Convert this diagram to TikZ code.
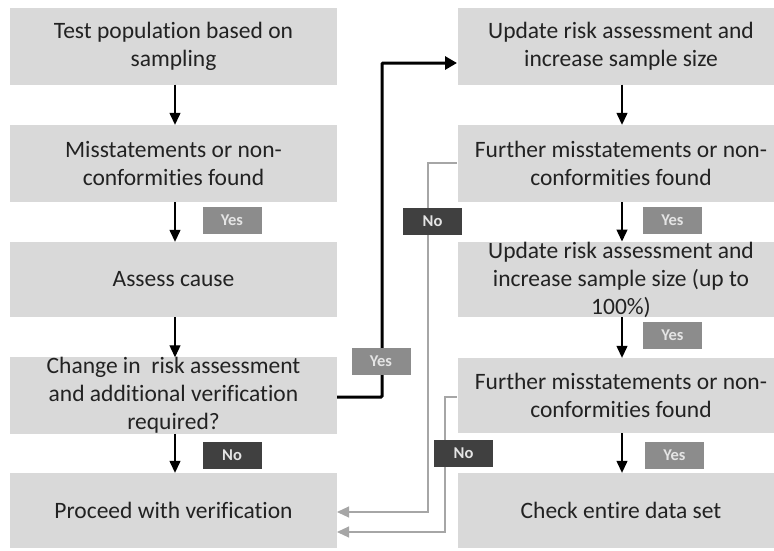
\documentclass[tikz,border=0pt]{standalone}
\usepackage{fontspec}
\setmainfont{Carlito}[Ligatures={NoCommon,NoRequired,NoContextual}]
\usetikzlibrary{arrows.meta}
\newcommand{\tI}{t\kern0pt i}
\definecolor{boxfill}{HTML}{D9D9D9}
\definecolor{boxtext}{HTML}{222222}
\definecolor{yesfill}{HTML}{8C8C8C}
\definecolor{nofill}{HTML}{404040}
\definecolor{labtext}{HTML}{E4E4E4}
\definecolor{noline}{HTML}{A6A6A6}
\tikzset{
  stepbox/.style={fill=boxfill, text=boxtext, minimum width=327pt, minimum height=77pt,
    inner sep=0pt, align=center, font=\fontsize{23.5}{28}\selectfont},
  yeslab/.style={fill=yesfill, text=labtext, minimum width=59pt, minimum height=27pt,
    inner sep=0pt, font=\fontsize{16.5}{18}\selectfont\bfseries},
  nolab/.style={yeslab, fill=nofill},
  flow/.style={draw=black, line width=1.3pt, -{Triangle[width=11pt,length=12pt]}},
  thickflow/.style={draw=black, line width=3pt, -{Triangle[width=13pt,length=12pt]}},
  grayflow/.style={draw=noline, line width=1.1pt, -{Triangle[width=11pt,length=12pt]}}
}
\begin{document}
\begin{tikzpicture}[x=1pt,y=-1pt]
\useasboundingbox (0,0) rectangle (774,550);
\clip (0,0) rectangle (774,550);
% left column
\node[stepbox] (l1) at (173.5,46) {Test popula\tI on based on\\sampling};
\node[stepbox] (l2) at (173.5,163.5) {Misstatements or non-\\conformi\tI es found};
\node[stepbox, minimum height=75pt] (l3) at (173.5,279.5) {Assess cause};
\node[stepbox, minimum height=75pt] (l4) at (173.5,395.5) {Change in\ \ risk assessment\\and addi\tI onal verifica\tI on\\required?};
\node[stepbox, minimum height=75pt] (l5) at (173.5,510.5) {Proceed with verifica\tI on};
% right column
\node[stepbox] (r1) at (621,46) {Update risk assessment and\\increase sample size};
\node[stepbox] (r2) at (621,163.5) {Further misstatements or non-\\conformi\tI es found};
\node[stepbox, minimum height=75pt] (r3) at (621,279.5) {Update risk assessment and\\increase sample size (up to\\100\%)};
\node[stepbox, minimum height=75pt] (r4) at (621,395.5) {Further misstatements or non-\\conformi\tI es found};
\node[stepbox, minimum height=75pt] (r5) at (621,510.5) {Check en\tI re data set};
% left arrows
\draw[flow] ([xshift=1.5pt]l1.south) -- ([xshift=1.5pt]l2.north);
\draw[flow] ([xshift=1.5pt]l2.south) -- ([xshift=1.5pt]l3.north);
\draw[flow] ([xshift=1.5pt]l3.south) -- ([xshift=1.5pt]l4.north);
\draw[flow] ([xshift=1.5pt]l4.south) -- ([xshift=1.5pt]l5.north);
% right arrows
\draw[flow] ([xshift=1pt]r1.south) -- ([xshift=1pt]r2.north);
\draw[flow] ([xshift=1pt]r2.south) -- ([xshift=1pt]r3.north);
\draw[flow] ([xshift=1pt]r3.south) -- ([xshift=1pt]r4.north);
\draw[flow] ([xshift=1pt]r4.south) -- ([xshift=1pt]r5.north);
% thick yes connector
\coordinate (yout) at (337,397);
\coordinate (yin) at (457,63);
\draw[thickflow, rounded corners=1pt] (yout) -| (382,230) |- (yin);
% gray no connectors
\coordinate (n1s) at (457,163);
\coordinate (n1e) at (337,512);
\coordinate (n2s) at (457,397);
\coordinate (n2e) at (337,532);
\draw[grayflow] (n1s) -- (428,163) |- (n1e);
\draw[grayflow] (n2s) -- (445,397) |- (n2e);
% labels
\node[yeslab] (y1) at (232,220.5) {Yes};
\node[nolab] (n0) at (232,455.5) {No};
\node[yeslab] (y2) at (381,361.5) {Yes};
\node[nolab] (n1) at (432.5,221.5) {No};
\node[nolab] (n2) at (463.5,453.5) {No};
\node[yeslab] (y3) at (672.5,220.5) {Yes};
\node[yeslab] (y4) at (672.5,335.5) {Yes};
\node[yeslab] (y5) at (674.5,455.5) {Yes};
\end{tikzpicture}
\end{document}
